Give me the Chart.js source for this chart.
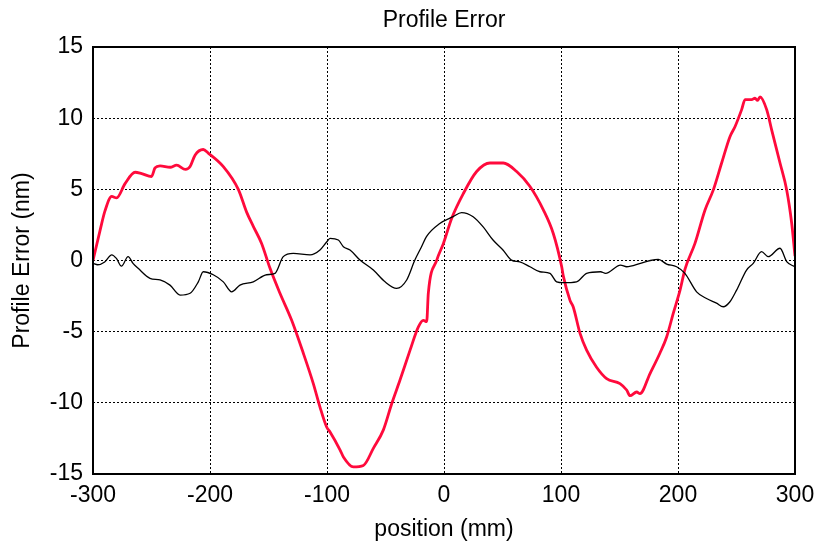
<!DOCTYPE html>
<html>
<head>
<meta charset="utf-8">
<script src="https://cdn.jsdelivr.net/npm/chart.js@4.4.1/dist/chart.umd.min.js"></script>
<style>
  html, body { margin: 0; padding: 0; background: #fff; }
  #wrap { width: 817px; height: 543px; }
</style>
</head>
<body>
<div id="wrap"><canvas id="graphCanvas" width="817" height="543"></canvas></div>
<script>
// red trace: profile error
const profileX = [-300, -294, -289.7, -284, -279.8, -272.6, -264, -258.4, -250, -247, -242.7, -234, -228.5, -221, -217, -212.8, -205.8, -201.5, -188.6, -175.8, -168.7, -163, -155.9, -148.7, -140.2, -130.2, -120.3, -111.7, -106, -100.3, -97.4, -88.9, -86, -77.5, -68.9, -60.4, -51.8, -44.7, -37.6, -29, -21.9, -17.7, -14.8, -13.4, -6.2, -0.5, 6.6, 16.5, 27.9, 39.3, 50.7, 62.1, 73.5, 84.9, 93.4, 100.6, 102, 107.7, 110.4, 116.2, 121.9, 130.4, 139, 150.4, 156.1, 159, 164.7, 167.5, 176.1, 184.6, 190.3, 196, 201.7, 206, 214.5, 223.1, 230.2, 237.3, 244.4, 248.7, 254.4, 257.3, 263, 265.8, 268, 270.1, 275.8, 280, 287.2, 292.9, 297.2, 300];
const profileErr = [0, 2.1, 3.5, 4.5, 4.4, 5.4, 6.2, 6.1, 5.9, 6.5, 6.65, 6.55, 6.7, 6.4, 6.6, 7.4, 7.8, 7.55, 6.6, 5.0, 3.4, 2.4, 1.2, -0.55, -2.3, -4.2, -6.5, -8.65, -10.3, -11.7, -12.05, -13.3, -13.8, -14.5, -14.4, -13.2, -11.9, -10.06, -8.4, -6.3, -4.66, -4.2, -4.3, -2.3, 0.03, 1.2, 2.97, 4.7, 6.25, 6.85, 6.85, 6.25, 5.2, 3.56, 1.9, -0.44, -1.1, -2.8, -3.25, -5.1, -6.3, -7.5, -8.3, -8.65, -9.1, -9.5, -9.24, -9.35, -7.94, -6.5, -5.37, -3.7, -2.1, -0.6, 1.2, 3.55, 4.96, 6.85, 8.7, 9.4, 10.6, 11.3, 11.3, 11.4, 11.25, 11.5, 10.6, 9.2, 6.85, 4.96, 2.6, 0.3];

// black trace
const driftX = [-300, -296, -290, -284, -280, -275.7, -270, -265.8, -261.4, -251.3, -242.7, -234.2, -225.6, -217, -210, -205.8, -197.2, -188.6, -181.5, -174.4, -163, -151.6, -144.4, -137.4, -128.8, -114.5, -106, -100.3, -97.4, -90.3, -86, -80.3, -71.8, -60.4, -50.4, -40.5, -31.9, -24.9, -19.2, -15, -3.6, 7.8, 15, 24.9, 33.3, 41.9, 50.4, 57.6, 64.8, 73.5, 82, 90.6, 96.3, 101.9, 113.3, 121.9, 133.8, 138.1, 150.9, 156.1, 167.9, 176.4, 183.2, 190.3, 198.8, 205.9, 215.9, 224.4, 232.9, 238.7, 244.4, 250.1, 258.6, 264.3, 271.4, 277.1, 287.2, 292.9, 300];
const driftErr = [-0.2, -0.3, -0.1, 0.4, 0.15, -0.4, 0.27, -0.2, -0.55, -1.25, -1.37, -1.73, -2.43, -2.3, -1.5, -0.79, -1.0, -1.5, -2.2, -1.73, -1.5, -1.0, -0.9, 0.27, 0.5, 0.39, 0.74, 1.3, 1.56, 1.44, 0.97, 0.74, 0.03, -0.67, -1.5, -1.96, -1.37, 0.03, 0.97, 1.68, 2.6, 3.08, 3.37, 3.08, 2.38, 1.44, 0.74, 0.03, -0.1, -0.44, -0.79, -0.9, -1.5, -1.56, -1.5, -0.9, -0.79, -0.9, -0.32, -0.44, -0.2, 0, 0.08, -0.25, -0.44, -0.9, -2.2, -2.67, -3.0, -3.25, -2.9, -2.08, -0.67, -0.2, 0.62, 0.27, 0.86, -0.08, -0.44];

const xTicks = [-300, -200, -100, 0, 100, 200, 300];
const yTicks = [-15, -10, -5, 0, 5, 10, 15];

const FONT = 'Arial, "Liberation Sans", sans-serif';

function toPoints(xs, ys) {
    return xs.map((x, i) => ({ x: x, y: ys[i] }));
}

const frame = {
    id: 'frame',
    afterDatasetsDraw(chart) {
        const { ctx, chartArea: a } = chart;
        ctx.save();
        ctx.strokeStyle = '#000';
        ctx.lineWidth = 2;
        ctx.strokeRect(a.left, a.top, a.right - a.left, a.bottom - a.top);
        ctx.restore();
    },
    afterDraw(chart) {
        const { ctx, chartArea: a } = chart;
        ctx.save();
        ctx.fillStyle = '#000';
        ctx.font = '23px ' + FONT;
        ctx.textAlign = 'center';
        ctx.textBaseline = 'middle';
        ctx.fillText('Profile Error', (a.left + a.right) / 2, 21);
        ctx.restore();
    }
};

const gridStyle = {
    color: '#000',
    lineWidth: 1,
    drawTicks: false
};

new Chart(document.getElementById('graphCanvas').getContext('2d'), {
    type: 'line',
    data: {
        datasets: [
            {
                label: 'drift',
                data: toPoints(driftX, driftErr),
                borderColor: '#000',
                borderWidth: 1.3,
                pointRadius: 0,
                cubicInterpolationMode: 'monotone'
            },
            {
                label: 'profile',
                data: toPoints(profileX, profileErr),
                borderColor: '#ff0a3c',
                borderWidth: 2.8,
                pointRadius: 0,
                cubicInterpolationMode: 'monotone'
            }
        ]
    },
    options: {
        responsive: false,
        animation: false,
        layout: { padding: { top: 47, right: 22, left: 0, bottom: 0 } },
        plugins: {
            legend: { display: false },
            tooltip: { enabled: false }
        },
        scales: {
            x: {
                type: 'linear',
                min: -300,
                max: 300,
                afterBuildTicks: (s) => { s.ticks = xTicks.map(v => ({ value: v })); },
                afterFit: (s) => { s.height = 69; s.paddingLeft = 0; s.paddingRight = 0; },
                grid: gridStyle,
                border: { display: false, dash: [2, 2] },
                ticks: { color: '#000', font: { family: FONT, size: 23 }, padding: 8, maxRotation: 0 },
                title: { display: true, text: 'position (mm)', color: '#000', font: { family: FONT, size: 23 }, padding: { top: 0, bottom: 0 } }
            },
            y: {
                type: 'linear',
                min: -15,
                max: 15,
                afterBuildTicks: (s) => { s.ticks = yTicks.map(v => ({ value: v })); },
                afterFit: (s) => { s.width = 93; s.paddingTop = 0; s.paddingBottom = 0; },
                grid: gridStyle,
                border: { display: false, dash: [2, 2] },
                ticks: { color: '#000', font: { family: FONT, size: 23 }, padding: 10 },
                title: { display: true, text: 'Profile Error (nm)', color: '#000', font: { family: FONT, size: 23 }, padding: { top: 9, bottom: 0 } }
            }
        }
    },
    plugins: [frame]
});
</script>
</body>
</html>
